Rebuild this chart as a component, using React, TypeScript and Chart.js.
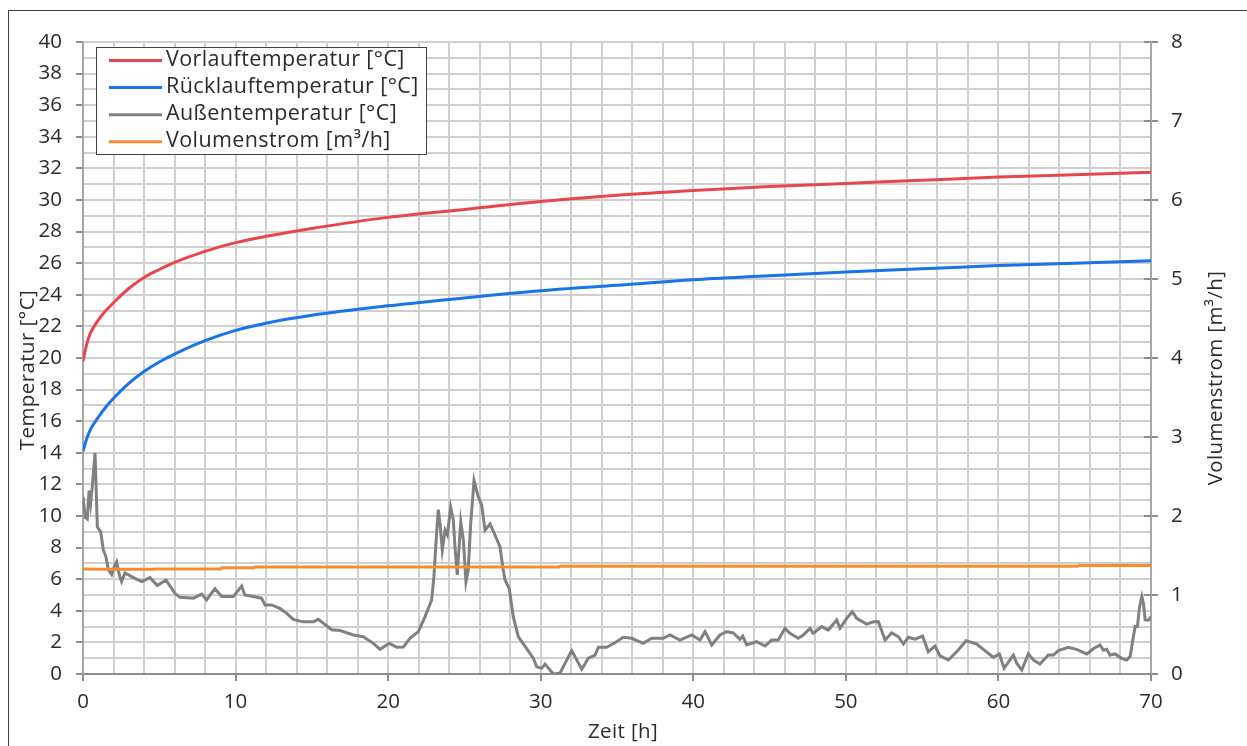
import React, { useEffect, useRef } from "react";
import { Chart, registerables } from "chart.js";
Chart.register(...registerables);

// ---- Data ----
const vorlaufTime = [0, 0.25, 0.5, 1, 1.5, 2, 3, 4, 5, 6, 8, 10, 12, 15, 20, 25, 30, 35, 40, 45, 50, 55, 60, 65, 70];
const vorlaufTemp = [19.8, 20.9, 21.6, 22.4, 23.0, 23.5, 24.4, 25.1, 25.6, 26.05, 26.75, 27.3, 27.7, 28.2, 28.9, 29.4, 29.9, 30.3, 30.6, 30.85, 31.05, 31.25, 31.45, 31.6, 31.75];

const ruecklaufTime = [0, 0.25, 0.5, 1, 1.5, 2, 3, 4, 5, 6, 8, 10, 12, 15, 20, 25, 30, 35, 40, 45, 50, 55, 60, 65, 70];
const ruecklaufTemp = [14.1, 14.9, 15.5, 16.25, 16.9, 17.45, 18.4, 19.15, 19.75, 20.25, 21.1, 21.75, 22.2, 22.7, 23.3, 23.8, 24.25, 24.6, 24.95, 25.2, 25.45, 25.65, 25.85, 26.0, 26.15];

const aussenTime = [0, 0.15, 0.28, 0.4, 0.5, 0.62, 0.79, 0.94, 1.16, 1.33, 1.51, 1.66, 1.88, 2.05, 2.2, 2.4, 2.53, 2.75, 3.3, 3.85, 4.39, 4.87, 5.44, 6.03, 6.36, 7.23, 7.78, 8.1, 8.65, 9.09, 9.85, 10.4, 10.6, 11.16, 11.7, 11.93, 12.37, 12.9, 13.35, 13.78, 14.44, 15.1, 15.42, 16.3, 16.85, 17.72, 18.37, 19.03, 19.47, 20.08, 20.56, 20.99, 21.43, 21.98, 22.42, 22.85, 23.0, 23.18, 23.29, 23.4, 23.55, 23.73, 23.88, 24.1, 24.27, 24.38, 24.53, 24.76, 24.93, 25.1, 25.25, 25.41, 25.63, 25.91, 26.13, 26.35, 26.68, 27.0, 27.33, 27.51, 27.66, 27.94, 28.2, 28.53, 29.08, 29.52, 29.74, 30.06, 30.28, 30.83, 31.26, 32.03, 32.69, 33.12, 33.56, 33.78, 34.32, 34.87, 35.41, 35.96, 36.72, 37.27, 38.04, 38.47, 39.13, 39.9, 40.44, 40.77, 41.21, 41.75, 42.19, 42.62, 43.06, 43.24, 43.5, 44.15, 44.7, 45.14, 45.57, 46.01, 46.34, 46.88, 47.21, 47.65, 47.86, 48.41, 48.85, 49.4, 49.62, 50.05, 50.42, 50.71, 51.36, 51.8, 52.13, 52.57, 53.0, 53.44, 53.77, 54.1, 54.53, 55.03, 55.4, 55.84, 56.17, 56.72, 57.37, 57.88, 58.58, 59.01, 59.67, 60.06, 60.37, 60.76, 60.98, 61.2, 61.53, 61.96, 62.29, 62.72, 63.27, 63.6, 63.93, 64.58, 65.13, 65.79, 66.22, 66.66, 66.88, 67.1, 67.31, 67.64, 68.08, 68.41, 68.63, 68.81, 68.96, 69.11, 69.25, 69.4, 69.5, 69.62, 69.83, 70];
const aussenTemp = [11.2, 9.9, 9.8, 11.6, 10.8, 12.0, 14.0, 9.3, 9.0, 7.85, 7.4, 6.6, 6.3, 6.8, 7.1, 6.2, 5.85, 6.4, 6.1, 5.85, 6.1, 5.6, 5.95, 5.1, 4.85, 4.8, 5.06, 4.7, 5.4, 4.9, 4.9, 5.57, 5.0, 4.9, 4.8, 4.37, 4.37, 4.15, 3.84, 3.46, 3.3, 3.3, 3.46, 2.8, 2.75, 2.47, 2.36, 1.94, 1.56, 1.94, 1.69, 1.7, 2.26, 2.68, 3.63, 4.68, 6.16, 9.0, 10.4, 9.5, 7.85, 9.1, 8.8, 10.55, 9.75, 8.06, 6.27, 9.64, 8.48, 5.84, 6.58, 9.5, 12.24, 11.2, 10.7, 9.1, 9.5, 8.8, 8.06, 6.8, 5.95, 5.4, 3.63, 2.36, 1.6, 0.99, 0.46, 0.36, 0.63, 0.0, 0.05, 1.48, 0.3, 1.0, 1.2, 1.69, 1.69, 1.98, 2.32, 2.26, 1.94, 2.26, 2.26, 2.47, 2.15, 2.47, 2.15, 2.68, 1.84, 2.47, 2.68, 2.6, 2.2, 2.4, 1.84, 2.05, 1.77, 2.15, 2.15, 2.89, 2.57, 2.26, 2.47, 2.89, 2.57, 3.0, 2.78, 3.42, 2.89, 3.52, 3.94, 3.52, 3.16, 3.3, 3.3, 2.15, 2.6, 2.36, 1.9, 2.32, 2.2, 2.4, 1.41, 1.77, 1.15, 0.89, 1.52, 2.1, 1.9, 1.56, 1.05, 1.27, 0.36, 0.89, 1.2, 0.68, 0.25, 1.27, 0.89, 0.63, 1.2, 1.2, 1.48, 1.69, 1.56, 1.27, 1.6, 1.84, 1.5, 1.56, 1.2, 1.27, 0.99, 0.89, 1.1, 2.15, 3.0, 3.0, 4.26, 4.9, 4.5, 3.42, 3.4, 3.63];

const volTime = [0, 1.5, 4.6, 4.7, 9.0, 9.1, 11.2, 11.3, 31.2, 31.3, 65.2, 65.3, 70];
const volValue = [1.33, 1.325, 1.325, 1.33, 1.33, 1.345, 1.345, 1.355, 1.355, 1.365, 1.365, 1.375, 1.375];

const xTicks = [0, 10, 20, 30, 40, 50, 60, 70];
const yLeftTicks = [0, 2, 4, 6, 8, 10, 12, 14, 16, 18, 20, 22, 24, 26, 28, 30, 32, 34, 36, 38, 40];
const yRightTicks = [0, 1, 2, 3, 4, 5, 6, 7, 8];

const legendLabels = ["Vorlauftemperatur [°C]", "Rücklauftemperatur [°C]", "Außentemperatur [°C]", "Volumenstrom [m³/h]"];
const colors = ["#e8464f", "#1874e8", "#808080", "#f68c30"];

const FONT = "'Open Sans', 'DejaVu Sans', sans-serif";
const TXT = "#2b2b2b";

function pts(t: number[], v: number[]) {
  return t.map((x, i) => ({ x, y: v[i] }));
}

const overlayPlugin = {
  id: "overlay",
  afterDraw(chart: any) {
    const ctx = chart.ctx as any;
    const y1 = chart.scales.y1;
    ctx.save();
    // inner part of the right-axis tick marks (they cross the axis)
    ctx.strokeStyle = "#8c8c8c";
    ctx.lineWidth = 2;
    yRightTicks.forEach((v) => {
      const py = Math.round(y1.getPixelForValue(v));
      ctx.beginPath();
      ctx.moveTo(y1.left - 7, py);
      ctx.lineTo(y1.left, py);
      ctx.stroke();
    });

    // axis titles
    ctx.fillStyle = TXT;
    ctx.font = `20.5px ${FONT}`;
    ctx.letterSpacing = "0.4px";
    ctx.textAlign = "center";
    ctx.textBaseline = "middle";
    ctx.fillText("Zeit [h]", 623, 732);
    ctx.save();
    ctx.translate(28, 370);
    ctx.rotate(-Math.PI / 2);
    ctx.fillText("Temperatur [°C]", 0, 0);
    ctx.restore();
    ctx.save();
    ctx.translate(1216, 378);
    ctx.rotate(-Math.PI / 2);
    ctx.fillText("Volumenstrom [m³/h]", 0, 0);
    ctx.restore();

    // legend
    ctx.fillStyle = "#ffffff";
    ctx.fillRect(96, 47, 331, 108);
    ctx.strokeStyle = "#404040";
    ctx.lineWidth = 1;
    ctx.strokeRect(96.5, 47.5, 330, 107);
    ctx.font = `21.5px ${FONT}`;
    ctx.letterSpacing = "0.4px";
    ctx.textAlign = "left";
    ctx.textBaseline = "middle";
    legendLabels.forEach((lbl, i) => {
      const y = 60.5 + i * 27.1;
      ctx.strokeStyle = colors[i];
      ctx.lineWidth = 3;
      ctx.beginPath();
      ctx.moveTo(109, y);
      ctx.lineTo(162, y);
      ctx.stroke();
      ctx.fillStyle = TXT;
      ctx.fillText(lbl, 166, y - 1);
    });
    ctx.letterSpacing = "0px";
    ctx.restore();
  },
};

export default function App() {
  const ref = useRef<HTMLCanvasElement>(null);
  useEffect(() => {
    if (!ref.current) return;
    const gridColor = "#cfcfcf";
    const axisColor = "#a6a6a6";
    const chart = new Chart(ref.current, {
      type: "line",
      data: {
        datasets: [
          { label: legendLabels[0], data: pts(vorlaufTime, vorlaufTemp), borderColor: colors[0], borderWidth: 3, pointRadius: 0, cubicInterpolationMode: "monotone", yAxisID: "y", order: 1 },
          { label: legendLabels[1], data: pts(ruecklaufTime, ruecklaufTemp), borderColor: colors[1], borderWidth: 3, pointRadius: 0, cubicInterpolationMode: "monotone", yAxisID: "y", order: 2 },
          { label: legendLabels[2], data: pts(aussenTime, aussenTemp), borderColor: colors[2], borderWidth: 3, pointRadius: 0, tension: 0, yAxisID: "y", order: 3 },
          { label: legendLabels[3], data: pts(volTime, volValue), borderColor: colors[3], borderWidth: 3, pointRadius: 0, tension: 0, yAxisID: "y1", order: 0 },
        ],
      },
      options: {
        animation: false,
        responsive: false,
        maintainAspectRatio: false,
        layout: { padding: { top: 42, left: 0, right: 0, bottom: 0 } },
        plugins: { legend: { display: false }, tooltip: { enabled: false } },
        scales: {
          x: {
            type: "linear",
            min: 0,
            max: 70,
            afterFit: (s: any) => { s.height = 72; },
            afterBuildTicks: (s: any) => {
              const arr: any[] = [];
              for (let v = 0; v <= 70; v += 2) arr.push({ value: v });
              s.ticks = arr;
            },
            ticks: {
              autoSkip: false,
              maxRotation: 0,
              padding: 9,
              color: TXT,
              font: { family: FONT, size: 20.5 },
              callback: (v: any) => (xTicks.includes(Number(v)) ? String(v) : ""),
            },
            grid: {
              color: gridColor,
              lineWidth: 2,
              tickLength: 7,
              tickColor: (c: any) => (c.tick && xTicks.includes(c.tick.value) ? "#8c8c8c" : "rgba(0,0,0,0)"),
            },
            border: { color: "#8c8c8c", width: 2 },
          },
          y: {
            type: "linear",
            position: "left",
            min: 0,
            max: 40,
            afterFit: (s: any) => { s.width = 83; },
            afterBuildTicks: (s: any) => {
              const arr: any[] = [];
              for (let v = 0; v <= 40; v += 1) arr.push({ value: v });
              s.ticks = arr;
            },
            ticks: {
              autoSkip: false,
              padding: 14,
              color: TXT,
              font: { family: FONT, size: 20.5 },
              callback: (v: any) => (yLeftTicks.includes(Number(v)) ? String(v) : ""),
            },
            grid: {
              color: gridColor,
              lineWidth: 2,
              tickLength: 7,
              tickColor: (c: any) => (c.tick && yLeftTicks.includes(c.tick.value) ? "#8c8c8c" : "rgba(0,0,0,0)"),
            },
            border: { color: axisColor, width: 2 },
          },
          y1: {
            type: "linear",
            position: "right",
            min: 0,
            max: 8,
            afterFit: (s: any) => { s.width = 96; },
            afterBuildTicks: (s: any) => {
              s.ticks = yRightTicks.map((v) => ({ value: v }));
            },
            ticks: {
              autoSkip: false,
              padding: 13,
              color: TXT,
              font: { family: FONT, size: 20.5 },
              callback: (v: any) => String(v),
            },
            grid: { drawOnChartArea: false, tickLength: 7, tickColor: "#8c8c8c", lineWidth: 2 },
            border: { color: axisColor, width: 2 },
          },
        },
      },
      plugins: [overlayPlugin],
    } as any);
    return () => chart.destroy();
  }, []);

  return (
    <div style={{ position: "fixed", left: 0, top: 0, width: 1247, height: 746, overflow: "hidden", background: "#ffffff" }}>
      <div style={{ position: "absolute", left: 8, top: 10, width: 1300, height: 800, border: "1.5px solid #404040" }} />
      <canvas ref={ref} width={1247} height={746} style={{ position: "absolute", left: 0, top: 0 }} />
    </div>
  );
}
